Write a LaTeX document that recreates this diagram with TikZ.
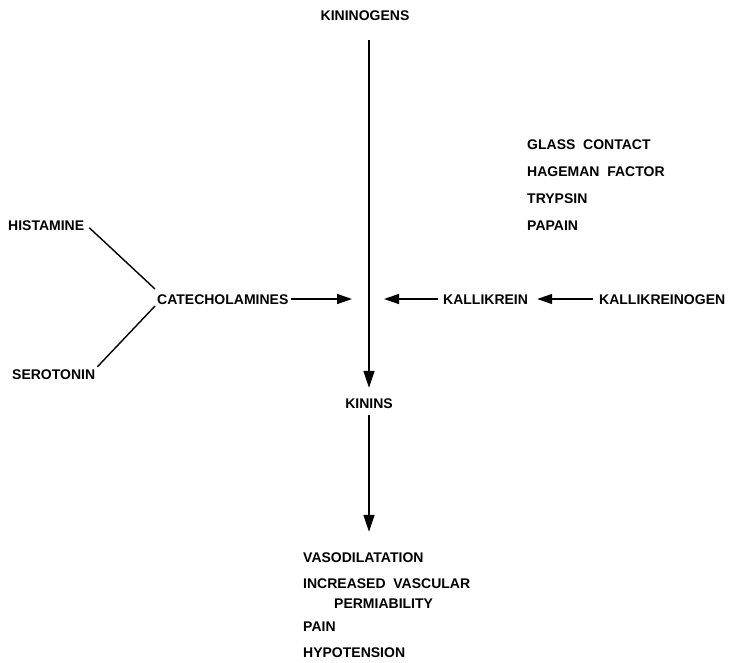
\documentclass[tikz,border=0pt]{standalone}
\usepackage{fontspec}
\setmainfont{Liberation Sans}
\usepackage{tikz}
\usetikzlibrary{positioning,arrows.meta}
\tikzset{
  lbl/.style={font=\bfseries\fontsize{14}{20}\selectfont, inner sep=2pt, text height=10pt, text depth=0pt},
  lft/.style={lbl, anchor=west},
  arr/.style={draw=black, line width=1.4pt, -{Triangle[length=15pt, width=10pt]}},
  varr/.style={draw=black, line width=1.4pt, -{Triangle[length=17pt, width=11pt]}},
  ln/.style={draw=black, line width=1.4pt}
}

\begin{document}
\begin{tikzpicture}[x=1pt, y=-1pt]
  \useasboundingbox (0,0) rectangle (731,662);
  % main axis
  \node[lbl] (kgn) at (365,15) {KININOGENS};
  \node[lbl] (kin) at (369,403) {KININS};
  \node[lft] (vaso) at (301,557) {VASODILATATION};
  \node[lft] (incr) at (301,583) {INCREASED\ \ VASCULAR};
  \node[lft] (perm) at (332,603) {PERMIABILITY};
  \node[lft] (pain) at (301,626) {PAIN};
  \node[lft] (hypo) at (301,652) {HYPOTENSION};
  % activators
  \node[lft] (glass) at (525,144) {GLASS\ \ CONTACT};
  \node[lft] (hag) at (525,171) {HAGEMAN\ \ FACTOR};
  \node[lft] (tryp) at (525,198) {TRYPSIN};
  \node[lft] (pap) at (525,225) {PAPAIN};
  % left side
  \node[lft] (hist) at (6,225) {HISTAMINE};
  \node[lft] (cat) at (155,299) {CATECHOLAMINES};
  \node[lft] (sero) at (10,374) {SEROTONIN};
  % right side
  \node[lft] (kal) at (441,299) {KALLIKREIN};
  \node[lft] (kalg) at (597,299) {KALLIKREINOGEN};
  \coordinate (catend) at (352,299);
  \coordinate (kalend) at (384,299);

  \draw[varr, shorten <=18pt, shorten >=8pt] (kgn.south -| kin.north) -- (kin.north);
  \draw[varr, shorten <=5pt, shorten >=18pt] (kin.south) -- (kin.south |- vaso.north);
  \draw[ln, shorten <=4pt] (hist.east) -- ([yshift=10pt]cat.west);
  \draw[ln] (sero.north east) -- ([yshift=-7pt]cat.west);
  \draw[arr] (cat.east) -- (catend);
  \draw[arr, shorten <=3pt] (kal.west) -- (kalend);
  \draw[arr, shorten <=4pt, shorten >=7pt] (kalg.west) -- (kal.east);
\end{tikzpicture}
\end{document}
